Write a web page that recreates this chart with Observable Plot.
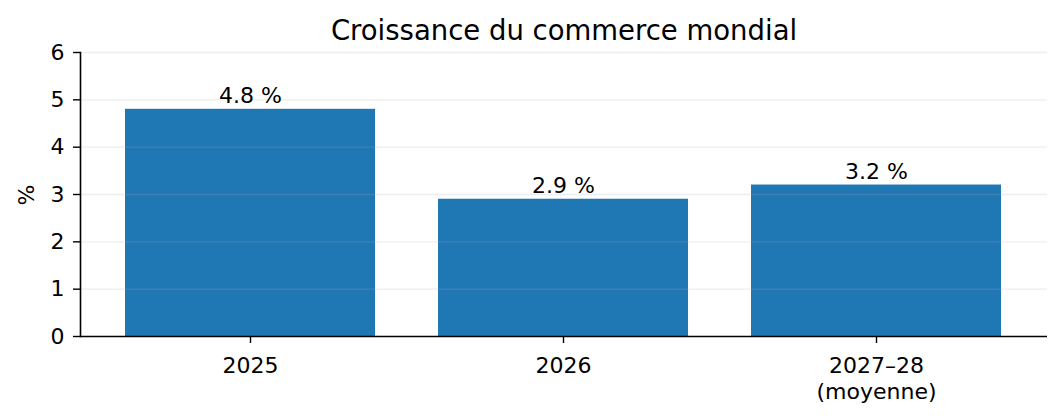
<!DOCTYPE html>
<html>
<head>
<meta charset="utf-8">
<script src="https://cdn.jsdelivr.net/npm/d3@7"></script>
<script src="https://cdn.jsdelivr.net/npm/@observablehq/plot@0.6"></script>
<style>
  html, body { margin: 0; padding: 0; background: #fff; }
  #chart svg { display: block; }
</style>
</head>
<body>
<div id="chart"></div>
<script>
const title = "Croissance du commerce mondial";
const categories = ["2025", "2026", "2027–28\n(moyenne)"];
const values = [4.8, 2.9, 3.2];
const valueLabels = ["4.8 %", "2.9 %", "3.2 %"];
const yTicks = [0, 1, 2, 3, 4, 5, 6];
const yLabel = "%";

const data = categories.map((c, i) => ({cat: c, value: values[i], label: valueLabels[i]}));

const font = "DejaVu Sans";
const chart = Plot.plot({
  width: 1063,
  height: 418,
  marginLeft: 80,
  marginRight: 16,
  marginTop: 52,
  marginBottom: 82,
  style: {fontFamily: font, background: "#fff", color: "#000"},
  x: {type: "band", domain: categories, paddingInner: 0.2, paddingOuter: 0.14},
  y: {domain: [0, 6]},
  marks: [
    Plot.barY(data, {x: "cat", y: "value", fill: "#1f77b4"}),
    Plot.gridY(yTicks.slice(1), {stroke: "#b0b0b0", strokeOpacity: 0.22, strokeWidth: 1.4}),
    Plot.ruleY([0], {stroke: "#000", strokeWidth: 1.6}),
    Plot.frame({anchor: "left", stroke: "#000", strokeWidth: 1.6}),
    Plot.axisY(yTicks, {tickSize: 7, tickPadding: 9, fontSize: 22, label: null, stroke: "#000", strokeWidth: 1.4, fill: "#000"}),
    Plot.axisX({tickSize: 7, text: null, label: null, stroke: "#000", strokeWidth: 1.4}),
    Plot.text(categories, {x: d => d, text: d => d, frameAnchor: "bottom", lineAnchor: "top", dy: 18.5, lineHeight: 1.18, fontSize: 22, fill: "#000"}),
    Plot.text(data, {x: "cat", y: "value", text: "label", dy: -6, lineAnchor: "bottom", fontSize: 22, fill: "#000"}),
    Plot.text([yLabel], {frameAnchor: "left", dx: -54, dy: 11, rotate: -90, fontSize: 22, fill: "#000"}),
    Plot.text([title], {frameAnchor: "top", dy: -13, lineAnchor: "bottom", fontSize: 27.5, fill: "#000"})
  ]
});
document.getElementById("chart").appendChild(chart);
</script>
</body>
</html>
